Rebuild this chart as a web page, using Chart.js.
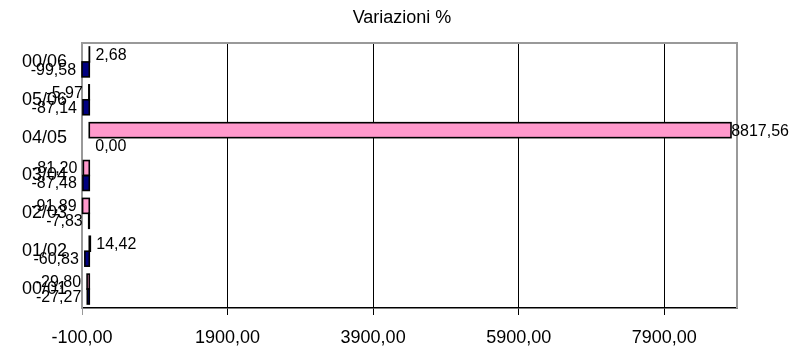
<!DOCTYPE html>
<html>
<head>
<meta charset="utf-8">
<script src="https://cdn.jsdelivr.net/npm/chart.js@4"></script>
<style>
  html, body { margin: 0; padding: 0; background: #fff; }
  #wrap { width: 796px; height: 347px; }
</style>
</head>
<body>
<div id="wrap"><canvas id="chart" width="796" height="347"></canvas></div>
<script>
const categories = ['00/01', '01/02', '02/03', '03/04', '04/05', '05/06', '00/06'];
const seriesA = [-29.80, 14.42, -91.89, -81.20, 8817.56, -5.97, 2.68];
const seriesB = [-27.27, -60.83, -7.83, -87.48, 0.00, -87.14, -99.58];
const xTicks = [-100, 1900, 3900, 5900, 7900];
const xMin = -100;
const xMax = 8900;

const FONT = "'Liberation Sans', Arial, sans-serif";
const fmt = v => v.toFixed(2).replace('.', ',');

// title + frame + bar outlines + value labels, Excel style
const excelBits = {
    id: 'excelBits',
    beforeDatasetsDraw(chart) {
        const ctx = chart.ctx, a = chart.chartArea;
        ctx.save();
        ctx.strokeStyle = '#999999';
        ctx.lineWidth = 2;
        ctx.beginPath();
        ctx.moveTo(a.left, a.top);
        ctx.lineTo(a.right, a.top);
        ctx.lineTo(a.right, a.bottom);
        ctx.stroke();
        ctx.restore();
    },
    afterDatasetsDraw(chart) {
        const ctx = chart.ctx;
        ctx.save();
        // outline drawn on the edge like Excel, so tiny bars still show
        ctx.strokeStyle = '#000';
        ctx.lineWidth = 1.6;
        chart.data.datasets.forEach((ds, di) => {
            chart.getDatasetMeta(di).data.forEach((bar, i) => {
                if (ds.data[i] === 0) return;
                const x0 = Math.min(bar.base, bar.x), x1 = Math.max(bar.base, bar.x);
                ctx.strokeRect(x0, bar.y - bar.height / 2, x1 - x0, bar.height);
            });
        });
        ctx.font = '16px ' + FONT;
        ctx.fillStyle = '#000';
        ctx.textBaseline = 'middle';
        chart.data.datasets.forEach((ds, di) => {
            chart.getDatasetMeta(di).data.forEach((bar, i) => {
                const v = ds.data[i];
                const txt = fmt(v);
                if (v >= 0) {
                    const w = ctx.measureText(txt).width;
                    ctx.textAlign = 'left';
                    ctx.fillText(txt, Math.min(bar.x + 6, 789 - w), bar.y + 1);
                } else {
                    ctx.textAlign = 'right';
                    ctx.fillText(txt, bar.x - 6, bar.y + 1);
                }
            });
        });
        ctx.font = '18px ' + FONT;
        ctx.textAlign = 'center';
        ctx.textBaseline = 'alphabetic';
        ctx.fillText('Variazioni %', 402, 23);
        ctx.restore();
    }
};

new Chart(document.getElementById('chart'), {
    type: 'bar',
    data: {
        labels: categories,
        datasets: [
            { data: seriesA, backgroundColor: '#FF99CC', borderWidth: 0 },
            { data: seriesB, backgroundColor: '#000080', borderWidth: 0 }
        ]
    },
    options: {
        indexAxis: 'y',
        responsive: false,
        animation: false,
        devicePixelRatio: 1,
        categoryPercentage: 0.79,
        barPercentage: 1,
        layout: { padding: { top: 43, right: 59, left: 0, bottom: 0 } },
        plugins: {
            legend: { display: false },
            tooltip: { enabled: false },
            title: { display: false }
        },
        scales: {
            x: {
                type: 'linear',
                min: xMin,
                max: xMax,
                afterBuildTicks: s => { s.ticks = xTicks.map(v => ({ value: v })); },
                afterFit: s => { s.height = 39; },
                ticks: {
                    color: '#000',
                    font: { family: FONT, size: 18 },
                    padding: 12,
                    maxRotation: 0,
                    autoSkip: false,
                    callback: v => fmt(v)
                },
                grid: {
                    color: c => c.index === 0 ? '#999999' : '#000',
                    lineWidth: 1,
                    tickLength: 7
                },
                border: { color: '#000', width: 1.5 }
            },
            y: {
                reverse: true,
                afterFit: s => { s.width = 82; },
                ticks: {
                    color: '#000',
                    font: { family: FONT, size: 18 },
                    padding: 15
                },
                grid: { display: false, drawTicks: false },
                border: { color: '#999999', width: 2 }
            }
        }
    },
    plugins: [excelBits]
});
</script>
</body>
</html>
